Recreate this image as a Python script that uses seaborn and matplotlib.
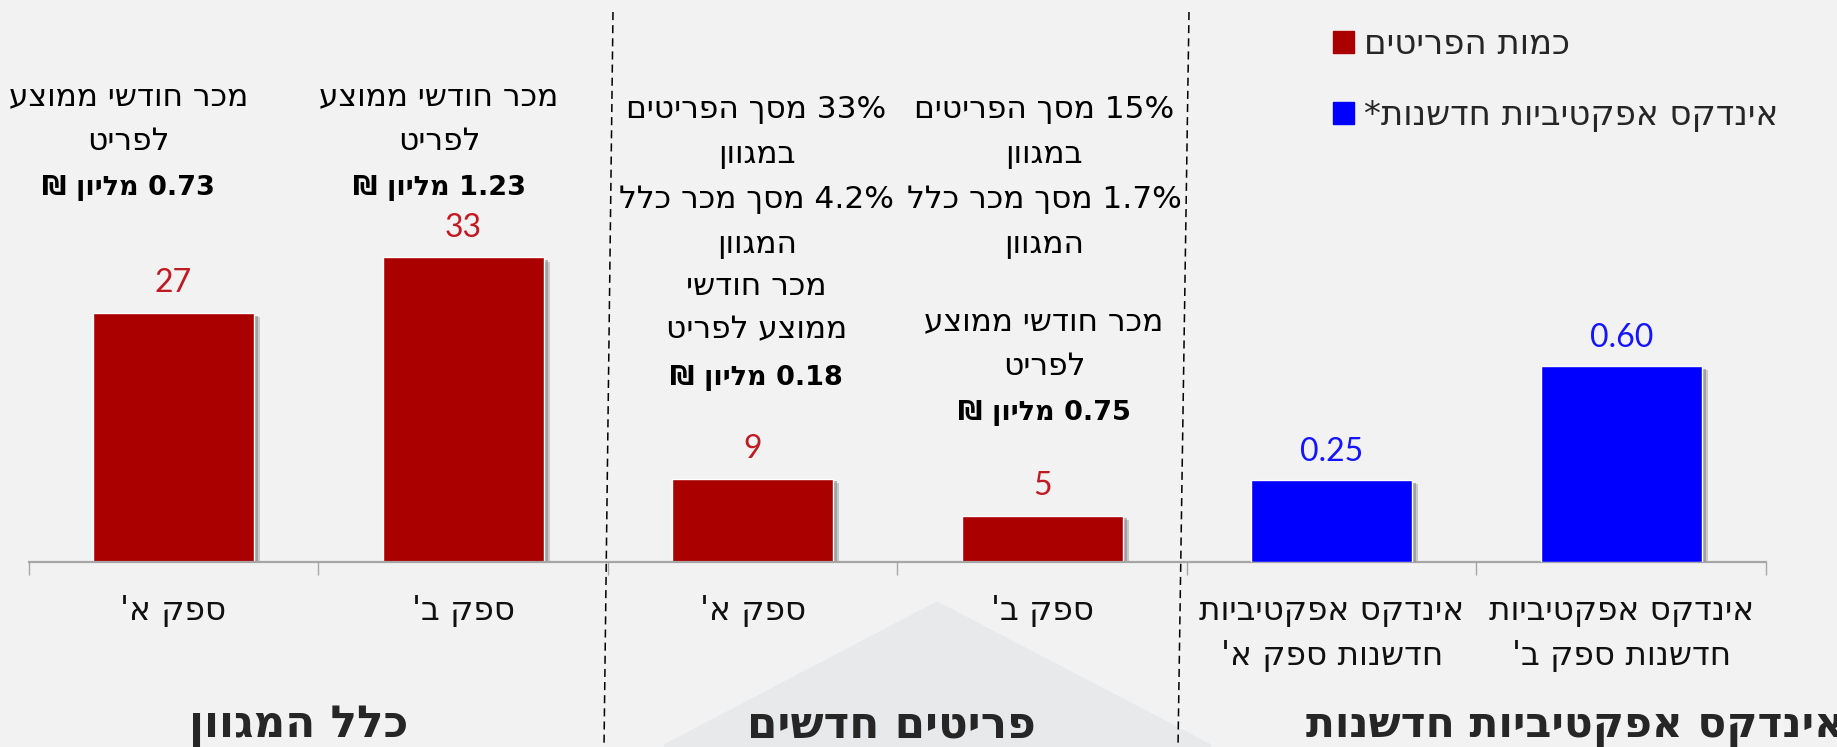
import re
import numpy as np
import pandas as pd
import matplotlib
matplotlib.use("Agg")
import matplotlib.pyplot as plt
import matplotlib.patheffects as pe
from matplotlib.patches import Patch, Polygon
from matplotlib.lines import Line2D
from matplotlib.transforms import blended_transform_factory
import seaborn as sns

# ---- data (left to right as drawn) ----
slot_keys = ["all_a", "all_b", "new_a", "new_b", "idx_a", "idx_b"]
tick_labels = ["ספק א'", "ספק ב'", "ספק א'", "ספק ב'",
               "אינדקס אפקטיביות\nחדשנות ספק א'",
               "אינדקס אפקטיביות\nחדשנות ספק ב'"]
group_titles = ["כלל המגוון", "פריטים חדשים", "אינדקס אפקטיביות חדשנות"]

count_keys = ["all_a", "all_b", "new_a", "new_b"]
item_counts = [27, 33, 9, 5]
index_keys = ["idx_a", "idx_b"]
innovation_index = [0.25, 0.60]
series_names = ["כמות הפריטים", "אינדקס אפקטיביות חדשנות*"]

avg_sales_all = ["0.73", "1.23"]      # million NIS per item
share_items_new = ["33%", "15%"]
share_sales_new = ["4.2%", "1.7%"]
avg_sales_new = ["0.18", "0.75"]

RED = "#aa0000"
BLUE = "#0000ff"
RED_TXT = "#c21a22"
BLUE_TXT = "#1414ff"
GRID = "#a6a6a6"
BG = "#f2f2f2"

W, H = 1837, 747


def rtl(s):
    # matplotlib lays text out left to right, so flip each line
    # and put number runs back in reading order
    lines = []
    for line in s.split("\n"):
        r = line[::-1]
        r = re.sub(r"[0-9.%]+", lambda m: m.group(0)[::-1], r)
        lines.append(r)
    return "\n".join(lines)


sns.set_theme(style="white")
plt.rcParams["font.family"] = ["DejaVu Sans"]

fig = plt.figure(figsize=(W / 100, H / 100), dpi=100, facecolor=BG)
base_px = 561.7
ax = fig.add_axes([28.7 / W, 1 - base_px / H, (1766 - 28.7) / W, base_px / H])
ax.set_facecolor("none")
ax2 = ax.twinx()

counts_df = pd.DataFrame({"slot": count_keys, "value": item_counts})
index_df = pd.DataFrame({"slot": index_keys, "value": innovation_index})

sns.barplot(data=counts_df, x="slot", y="value", order=slot_keys, color=RED,
            saturation=1, width=0.556, errorbar=None, ax=ax)
sns.barplot(data=index_df, x="slot", y="value", order=slot_keys, color=BLUE,
            saturation=1, width=0.556, errorbar=None, ax=ax2)

ax.set_xlim(-0.5, 5.5)
ax.set_ylim(0, base_px / 9.22)
ax2.set_ylim(0, base_px / 326)

shadow = [pe.SimplePatchShadow(offset=(4.5, -3), shadow_rgbFace="#b0b0b0", alpha=0.6),
          pe.SimplePatchShadow(offset=(3, -2), shadow_rgbFace="#808080", alpha=0.55),
          pe.Normal()]
for a in (ax, ax2):
    for p in a.patches:
        p.set_path_effects(shadow)

for cont in ax.containers:
    anns = ax.bar_label(cont, labels=[f"{v:.0f}" for v in cont.datavalues],
                        padding=15, fontsize=23, fontfamily="Lato", color=RED_TXT)
    for t in anns:
        t.set_va("baseline")
for cont in ax2.containers:
    anns = ax2.bar_label(cont, labels=[f"{v:.2f}" for v in cont.datavalues],
                         padding=14, fontsize=23, fontfamily="Lato", color=BLUE_TXT)
    for t in anns:
        t.set_va("baseline")

# axes cosmetics
ax.set_xlabel("")
ax.set_ylabel("")
ax2.set_ylabel("")
ax.set_yticks([])
ax2.set_yticks([])
for s in ["top", "left", "right"]:
    ax.spines[s].set_visible(False)
for s in ax2.spines.values():
    s.set_visible(False)
ax.spines["bottom"].set_color(GRID)
ax.spines["bottom"].set_linewidth(1.6)

ax.set_xticks(range(len(slot_keys)))
ax.set_xticklabels([rtl(t) for t in tick_labels], fontsize=23.5, linespacing=1.47)
ax.set_xticks(np.arange(-0.5, len(slot_keys), 1), minor=True)
ax.tick_params(axis="x", which="major", length=0, pad=23, colors="#111111")
ax.tick_params(axis="x", which="minor", bottom=True, length=9.5, width=1.0,
               color=GRID, direction="out")

# text blocks above the bars
mil = "מליון ₪"
blocks = [
    (0, ["מכר חודשי ממוצע", "לפריט", f"{avg_sales_all[0]} {mil}"]),
    (1, ["מכר חודשי ממוצע", "לפריט", f"{avg_sales_all[1]} {mil}"]),
    (2, [f"{share_items_new[0]} מסך הפריטים", "במגוון",
         f"{share_sales_new[0]} מסך מכר כלל", "המגוון",
         "מכר חודשי", "ממוצע לפריט", f"{avg_sales_new[0]} {mil}"]),
    (3, [f"{share_items_new[1]} מסך הפריטים", "במגוון",
         f"{share_sales_new[1]} מסך מכר כלל", "המגוון",
         "מכר חודשי ממוצע", "לפריט", f"{avg_sales_new[1]} {mil}"]),
]
block_dx = [-45, -24, 4, 2]   # px from bar centre
block_base = [[105, 150, 195], [105, 150, 195],
              [118, 163, 208, 253, 295, 338, 385],
              [118, 163, 208, 253, 330, 375, 420]]
slot_px = (1766 - 28.7) / len(slot_keys)
tr = blended_transform_factory(ax.transData, fig.transFigure)
for (slot, lines), dx, ys in zip(blocks, block_dx, block_base):
    for k, (txt, y) in enumerate(zip(lines, ys)):
        last = k == len(lines) - 1
        ax.text(slot + dx / slot_px, 1 - y / H, rtl(txt), transform=tr,
                ha="center", va="baseline", fontsize=19.5 if last else 22.5,
                fontweight="bold" if last else "normal", color="black")

# group titles
fig.text(299 / W, 1 - 737 / H, rtl(group_titles[0]), ha="center", va="baseline",
         fontsize=31.5, fontweight="bold")
fig.text(891.7 / W, 1 - 737 / H, rtl(group_titles[1]), ha="center", va="baseline",
         fontsize=31.5, fontweight="bold")
fig.text(1306 / W, 1 - 737 / H, rtl(group_titles[2]), ha="left", va="baseline",
         fontsize=30.5, fontweight="bold")

# dashed group separators
for (xt, xb) in [(613, 604), (1189, 1178)]:
    fig.add_artist(Line2D([xt / W, xb / W], [1 - 12 / H, 0], transform=fig.transFigure,
                          color="black", lw=1.1, linestyle=(0, (5.3, 3.3))))

# faint background triangle
fig.add_artist(Polygon([[668 / W, 0], [937 / W, 1 - 606 / H], [1207 / W, 0]],
                       closed=True, transform=fig.transFigure, facecolor="#e8e9eb",
                       edgecolor="#e8e9eb", lw=6, joinstyle="round", zorder=-5))

# legend
handles = [Patch(facecolor=RED, edgecolor=RED), Patch(facecolor=BLUE, edgecolor=BLUE)]
fig.legend(handles, [rtl(n) for n in series_names], loc="upper left",
           bbox_to_anchor=(1333 / W, 1 - 28 / H), frameon=False, fontsize=24.5,
           handlelength=0.62, handleheight=0.62, handletextpad=0.3,
           labelspacing=1.13, borderpad=0, borderaxespad=0)

fig.savefig("out.png", dpi=100, facecolor=BG)
